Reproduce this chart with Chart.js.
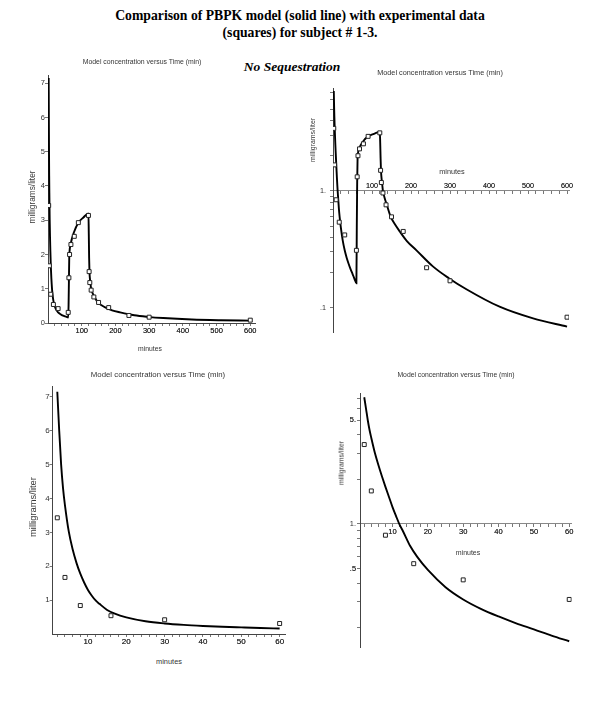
<!DOCTYPE html>
<html>
<head>
<meta charset="utf-8">
<script src="https://cdn.jsdelivr.net/npm/chart.js@4.4.1/dist/chart.umd.min.js"></script>
<style>
  body { margin: 0; background: #fff; }
  #page { position: relative; width: 600px; height: 706px; overflow: hidden; background: #fff; }
  canvas { position: absolute; }
  .t { position: absolute; white-space: nowrap; font-family: 'Liberation Sans', Arial, sans-serif; color: #333;
       transform: translate(-50%, -50%); line-height: 1; opacity: 0.99; }
  .yt { transform: translate(-50%, -50%) rotate(-90deg); }
  .head { position: absolute; left: 0; width: 600px; text-align: center; color: #000;
          font-family: 'Liberation Serif', 'Times New Roman', serif; font-weight: bold; }
</style>
</head>
<body>
<div id="page">
  <div class="head" style="top:7px;font-size:13.7px;line-height:17px;">Comparison of PBPK model (solid line) with experimental data<br>(squares) for subject # 1-3.</div>
  <div class="head" style="top:59px;left:-8px;font-size:13.5px;font-style:italic;line-height:16px;">No Sequestration</div>

  <canvas id="p1" width="300" height="290" style="left:0;top:60px"></canvas>
  <canvas id="p2" width="300" height="290" style="left:300px;top:60px"></canvas>
  <canvas id="p3" width="300" height="290" style="left:0;top:365px"></canvas>
  <canvas id="p4" width="300" height="290" style="left:300px;top:365px"></canvas>

  <div class="t" style="left:142px;top:62px;font-size:6.9px">Model concentration versus Time (min)</div>
  <div class="t yt" style="left:32px;top:197px;font-size:8.3px">milligrams/liter</div>
  <div class="t" style="left:150px;top:349px;font-size:6.8px">minutes</div>

  <div class="t" style="left:440px;top:73px;font-size:7.3px">Model concentration versus Time (min)</div>
  <div class="t yt" style="left:313px;top:140px;font-size:6.9px">milligrams/liter</div>
  <div class="t" style="left:452px;top:172px;font-size:7.3px">minutes</div>

  <div class="t" style="left:158px;top:375px;font-size:7.8px">Model concentration versus Time (min)</div>
  <div class="t yt" style="left:33px;top:507px;font-size:9.4px">milligrams/liter</div>
  <div class="t" style="left:169px;top:662px;font-size:7.4px">minutes</div>

  <div class="t" style="left:456px;top:375px;font-size:6.8px">Model concentration versus Time (min)</div>
  <div class="t yt" style="left:342px;top:463px;font-size:6.9px">milligrams/liter</div>
  <div class="t" style="left:468px;top:552px;font-size:7px">minutes</div>
</div>

<script>
// experimental data (squares), minutes / mg per liter
const expTime = [2, 4, 8, 16, 30, 60, 62, 64, 68, 78, 90, 120, 122, 124, 128, 136, 150, 180, 240, 300, 600];
const expConc = [3.43, 1.67, 0.84, 0.54, 0.42, 0.31, 1.32, 2.0, 2.29, 2.53, 2.93, 3.14, 1.5, 1.18, 0.96, 0.76, 0.6, 0.45, 0.22, 0.17, 0.083];

// PBPK model (solid line)
const modelTime = [2, 2.5, 3, 3.5, 4, 5, 6, 7, 8, 9, 10, 11, 12, 13, 15, 17, 20, 25, 30, 35, 40, 45, 50, 55, 60,
                   61, 62, 63, 64, 67, 77, 90, 105, 120,
                   121, 122, 123, 124, 126, 128, 132, 138, 148, 160, 171, 190, 214, 256, 296, 342, 427, 513, 600];
const modelConc = [7.15, 6.0, 5.0, 4.3, 3.8, 3.02, 2.5, 2.1, 1.78, 1.52, 1.3, 1.13, 0.99, 0.89, 0.71, 0.6, 0.49, 0.375, 0.31, 0.268, 0.238, 0.214, 0.195, 0.177, 0.162,
                   0.5, 1.2, 1.9, 2.1, 2.3, 2.65, 2.93, 3.08, 3.2,
                   2.6, 1.9, 1.5, 1.33, 1.15, 1.0, 0.88, 0.76, 0.6, 0.51, 0.45, 0.37, 0.31, 0.226, 0.18, 0.144, 0.102, 0.081, 0.069];

// tick labels
const linConcTicks = [0, 1, 2, 3, 4, 5, 6, 7];
const linConcLabels = ['0', '1', '2', '3', '4', '5', '6', '7'];
const longTimeTicks = [100, 200, 300, 400, 500, 600];
const shortTimeTicks = [10, 20, 30, 40, 50, 60];
const longLogTicks = [0.1, 1];
const longLogLabels = ['.1', '1.'];
const shortLogTicks = [0.5, 1, 5];
const shortLogLabels = ['.5', '1.', '5.'];

const sans = "'Liberation Sans', Arial, sans-serif";

function pairs(xs, ys, maxT) {
    const out = [];
    xs.forEach((t, i) => { if (t <= maxT) out.push({ x: t, y: ys[i] }); });
    return out;
}

function steps(from, to, step) {
    const out = [];
    for (let v = from; v <= to + 1e-9; v += step) out.push(Math.round(v * 1000) / 1000);
    return out;
}

function axis(o) {
    const all = o.ticks.concat(o.minor || []);
    return {
        type: o.type || 'linear',
        position: o.position,
        bounds: 'data',
        min: o.min,
        max: o.max,
        afterFit: s => {
            if (o.w !== undefined) s.width = o.w;
            if (o.h !== undefined) s.height = o.h;
        },
        afterBuildTicks: s => { s.ticks = all.map(v => ({ value: v })); },
        ticks: {
            autoSkip: false,
            maxRotation: 0,
            padding: o.pad || 0,
            color: '#333',
            font: { family: sans, size: o.fs || 7 },
            callback: v => {
                const i = o.ticks.findIndex(m => Math.abs(m - v) < 1e-9);
                return i < 0 ? '' : (o.labels ? o.labels[i] : String(o.ticks[i]));
            }
        },
        grid: { drawOnChartArea: false, drawTicks: true, tickLength: 3, color: '#777' },
        border: { display: true, color: o.bc || '#444', width: 1 }
    };
}

function panel(id, maxT, pad, xAxis, yAxis) {
    new Chart(document.getElementById(id), {
        type: 'scatter',
        data: {
            datasets: [{
                data: pairs(expTime, expConc, maxT),
                pointStyle: 'rect',
                pointRadius: 2.8,
                backgroundColor: '#fff',
                borderColor: '#222',
                borderWidth: 1,
                order: 0
            }, {
                data: pairs(modelTime, modelConc, maxT),
                showLine: true,
                pointRadius: 0,
                borderColor: '#000',
                borderWidth: 1.9,
                cubicInterpolationMode: 'monotone',
                fill: false,
                order: 1
            }]
        },
        options: {
            responsive: false,
            animation: false,
            events: [],
            layout: { padding: pad },
            plugins: { legend: { display: false }, tooltip: { enabled: false } },
            scales: { x: axis(xAxis), y: axis(yAxis) }
        }
    });
}

// top left: linear, 0-600 min
panel('p1', 600, { left: 26, top: 15, right: 45, bottom: 13 },
    { position: 'bottom', min: 0, max: 614, h: 14, fs: 7.5, ticks: longTimeTicks, minor: steps(20, 600, 20) },
    { position: 'left', min: 0, max: 7.24, w: 22, fs: 7.5, ticks: linConcTicks, labels: linConcLabels });

// top right: log, 0-600 min, time axis crossing at 1
panel('p2', 600, { left: 19, top: 28, right: 31, bottom: 18 },
    { position: { y: 1 }, min: 0, max: 605, fs: 7.2, pad: -12.5, bc: '#888', ticks: longTimeTicks, minor: steps(20, 600, 20) },
    { type: 'logarithmic', position: 'left', min: 0.062, max: 7.6, w: 14, fs: 7.2, pad: 4,
      ticks: longLogTicks, labels: longLogLabels, minor: steps(0.2, 0.9, 0.1).concat(steps(2, 7, 1)) });

// bottom left: linear, first hour
panel('p3', 60, { left: 30.7, top: 21.7, right: 15, bottom: 7 },
    { position: 'bottom', min: 0.8, max: 61.4, h: 14, fs: 8, ticks: shortTimeTicks, minor: steps(2, 60, 2) },
    { position: 'left', min: 0, max: 7.3, w: 22, fs: 8, ticks: linConcTicks.slice(1), labels: linConcLabels.slice(1) });

// bottom right: log, first hour, time axis crossing at 1
panel('p4', 60, { left: 46, top: 28.3, right: 28.3, bottom: 7.7 },
    { position: { y: 1 }, min: 0.8, max: 60.7, fs: 7.6, bc: '#888', ticks: shortTimeTicks, minor: steps(2, 60, 2) },
    { type: 'logarithmic', position: 'left', min: 0.1475, max: 7.6, w: 14, fs: 7.4, pad: 1,
      ticks: shortLogTicks, labels: shortLogLabels, minor: steps(0.2, 0.9, 0.1).concat(steps(2, 7, 1)) });
</script>
</body>
</html>
